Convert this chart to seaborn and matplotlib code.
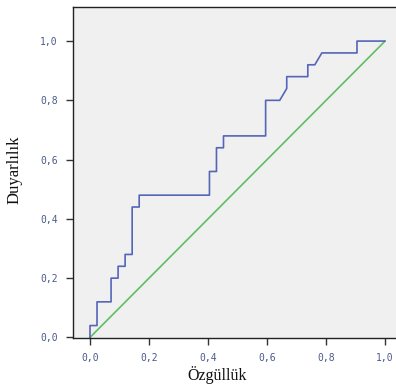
import matplotlib
matplotlib.use("Agg")
import matplotlib.pyplot as plt
import seaborn as sns
import pandas as pd

# ROC curve points (x = 1 - specificity axis labelled "Özgüllük", y = sensitivity)
roc_x = [0.0, 0.0, 0.0238, 0.0238, 0.0714, 0.0714, 0.0952, 0.0952, 0.1190, 0.1190,
         0.1429, 0.1429, 0.1667, 0.1667, 0.4048, 0.4048, 0.4286, 0.4286, 0.4524, 0.4524,
         0.5952, 0.5952, 0.6429, 0.6667, 0.6667, 0.7381, 0.7381, 0.7619, 0.7857, 0.9048,
         0.9048, 1.0]
roc_y = [0.0, 0.04, 0.04, 0.12, 0.12, 0.20, 0.20, 0.24, 0.24, 0.28,
         0.28, 0.44, 0.44, 0.48, 0.48, 0.56, 0.56, 0.64, 0.64, 0.68,
         0.68, 0.80, 0.80, 0.84, 0.88, 0.88, 0.92, 0.92, 0.96, 0.96,
         1.0, 1.0]
ref_x = [0.0, 1.0]
ref_y = [0.0, 1.0]
tick_vals = [0.0, 0.2, 0.4, 0.6, 0.8, 1.0]
tick_labels = ["0,0", "0,2", "0,4", "0,6", "0,8", "1,0"]

roc = pd.DataFrame({"x": roc_x, "y": roc_y})
ref = pd.DataFrame({"x": ref_x, "y": ref_y})

sns.set_style("white")
fig = plt.figure(figsize=(3.96, 3.90), dpi=100)
W, H = 396, 390
ax = fig.add_axes([73 / W, (H - 338) / H, (396 - 73) / W, (338 - 7) / H])
ax.set_facecolor("#f0f0f0")

sns.lineplot(data=ref, x="x", y="y", ax=ax, color="#5cc060", linewidth=1.2,
             sort=False, estimator=None)
sns.lineplot(data=roc, x="x", y="y", ax=ax, color="#5565b8", linewidth=1.2,
             sort=False, estimator=None)

ax.set_xlim(-0.0576, 1.037)
ax.set_ylim(-0.002, 1.115)
ax.set_xticks(tick_vals)
ax.set_xticklabels(tick_labels)
ax.set_yticks(tick_vals)
ax.set_yticklabels(tick_labels)
ax.tick_params(axis="both", direction="out", length=5, width=1, color="#333333",
               labelsize=7, labelcolor="#4a5a8a", pad=6, bottom=True, left=True)
for lab in ax.get_xticklabels() + ax.get_yticklabels():
    lab.set_family("DejaVu Sans Mono")

for side in ["left", "bottom", "top"]:
    ax.spines[side].set_visible(True)
    ax.spines[side].set_color("#222222")
    ax.spines[side].set_linewidth(1.0)
ax.spines["right"].set_visible(False)

ax.set_xlabel("Özgüllük", family="Liberation Serif", fontsize=11.5, color="#111111")
ax.set_ylabel("Duyarlılık", family="Liberation Serif", fontsize=12, color="#111111")
ax.xaxis.set_label_coords(0.446, -0.085)
ax.yaxis.set_label_coords(-0.155, 0.508)

fig.savefig("out.png", dpi=100, facecolor="white")
